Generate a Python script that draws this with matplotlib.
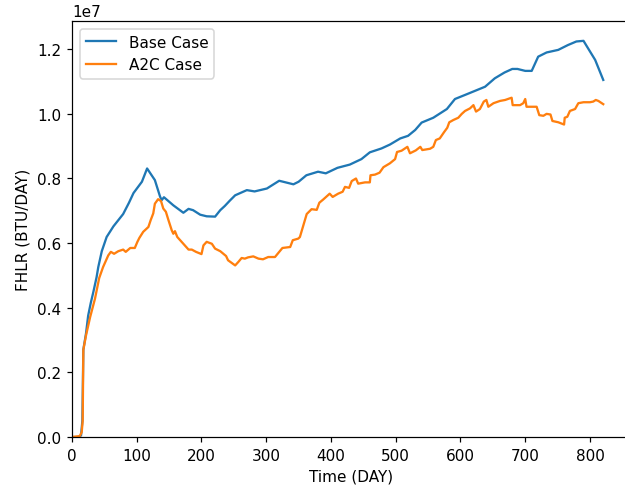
import matplotlib
matplotlib.use('Agg')
import matplotlib.pyplot as plt
import numpy as np

# values, FHLR in millions of BTU/DAY
base_days = [0, 10, 14, 16, 17.5, 21.6, 25, 29, 33, 38, 40.6, 46, 53.5, 64, 79, 88, 95, 108, 116, 123,
             128, 136, 138.5, 142, 156.5, 172, 180, 187, 198, 208, 221, 229, 236, 244, 252, 270, 282,
             301, 320, 342, 350, 362, 380, 392, 410, 429, 447, 460, 478, 491, 507, 519, 530, 540, 558,
             579, 591.5, 610, 638, 653, 668, 680, 688, 700, 710, 720, 733, 751, 766, 779, 790, 797,
             808, 820.5]
base_fhlr = [0, 0, 0.05, 0.5, 2.7, 3.2, 3.76, 4.15, 4.49, 4.95, 5.26, 5.75, 6.19, 6.52, 6.9, 7.25, 7.55,
             7.9, 8.31, 8.1, 7.95, 7.44, 7.33, 7.42, 7.17, 6.94, 7.06, 7.02, 6.88, 6.83, 6.82, 7.02,
             7.15, 7.32, 7.48, 7.64, 7.6, 7.69, 7.93, 7.82, 7.9, 8.1, 8.21, 8.16, 8.33, 8.43, 8.6, 8.81,
             8.93, 9.05, 9.24, 9.32, 9.5, 9.73, 9.88, 10.15, 10.46, 10.61, 10.84, 11.1, 11.28, 11.39,
             11.39, 11.33, 11.33, 11.77, 11.9, 11.98, 12.13, 12.24, 12.26, 12.03, 11.67, 11.05]

a2c_days = [0, 12, 15, 16.5, 17.5, 21.6, 28, 35.5, 42, 48, 56, 60, 65, 71.5, 79, 83, 90, 97, 101, 104,
            110, 118, 121.5, 125.5, 128, 133, 137.5, 141, 145, 149, 154, 156.5, 159, 162.6, 172, 180,
            185, 191.5, 200, 203, 208, 216, 221, 229, 238, 241, 252, 257, 262, 267, 272, 280, 288, 295,
            303, 313.5, 325, 337, 341, 349.5, 352, 358, 362.5, 370, 378, 382, 388, 398, 402.6, 411,
            418, 421.6, 428, 432, 438.6, 442, 452.5, 460, 461, 468, 475, 481, 491, 499, 502, 509, 518,
            522, 531, 538, 541, 553, 558, 562, 568, 574.5, 579.6, 582.7, 589, 596.6, 602, 607, 614.7,
            620, 624, 630, 636, 640, 643, 651, 661, 669, 679, 680.6, 692, 697, 700, 702, 717.6, 721.7,
            728, 733, 739, 742, 751, 760, 761, 765, 769, 777, 782, 790, 800, 805, 809, 813, 820.5]
a2c_fhlr = [0, 0.03, 0.15, 0.5, 2.7, 3.14, 3.71, 4.28, 4.92, 5.26, 5.62, 5.73, 5.67, 5.75, 5.8, 5.73,
            5.85, 5.85, 6.04, 6.16, 6.35, 6.5, 6.71, 6.92, 7.22, 7.36, 7.3, 7.07, 6.97, 6.71, 6.4,
            6.29, 6.37, 6.19, 5.98, 5.8, 5.8, 5.73, 5.66, 5.93, 6.04, 5.98, 5.83, 5.75, 5.6, 5.47,
            5.31, 5.42, 5.54, 5.52, 5.56, 5.59, 5.52, 5.5, 5.57, 5.57, 5.85, 5.88, 6.09, 6.14, 6.19,
            6.6, 6.9, 7.05, 7.03, 7.25, 7.35, 7.53, 7.43, 7.53, 7.59, 7.74, 7.71, 7.92, 8.0, 7.84,
            7.88, 7.88, 8.1, 8.12, 8.18, 8.35, 8.47, 8.6, 8.82, 8.86, 8.98, 8.78, 8.87, 8.98, 8.88,
            8.92, 8.98, 9.19, 9.24, 9.43, 9.57, 9.74, 9.81, 9.88, 10.0, 10.09, 10.17, 10.27, 10.07,
            10.15, 10.38, 10.43, 10.22, 10.33, 10.4, 10.43, 10.5, 10.27, 10.27, 10.33, 10.46, 10.22,
            10.22, 9.96, 9.94, 10.0, 9.98, 9.78, 9.74, 9.67, 9.88, 9.91, 10.09, 10.15, 10.33, 10.36,
            10.36, 10.38, 10.43, 10.4, 10.3]

# rendered at dpi 110 so text and lines come out a bit larger, still 625x496 px
fig = plt.figure(figsize=(625 / 110, 496 / 110), dpi=110)
ax = fig.add_axes([0.1152, 0.1169, 0.8925, 0.8387])

ax.plot(base_days, np.array(base_fhlr) * 1e6, label='Base Case')
ax.plot(a2c_days, np.array(a2c_fhlr) * 1e6, label='A2C Case')

ax.set_xlim(left=0)
ax.set_ylim(bottom=0)
ax.set_xlabel('Time (DAY)')
ax.set_ylabel('FHLR (BTU/DAY)')
ax.legend(loc='upper left')

fig.savefig('out.png', dpi=110)
